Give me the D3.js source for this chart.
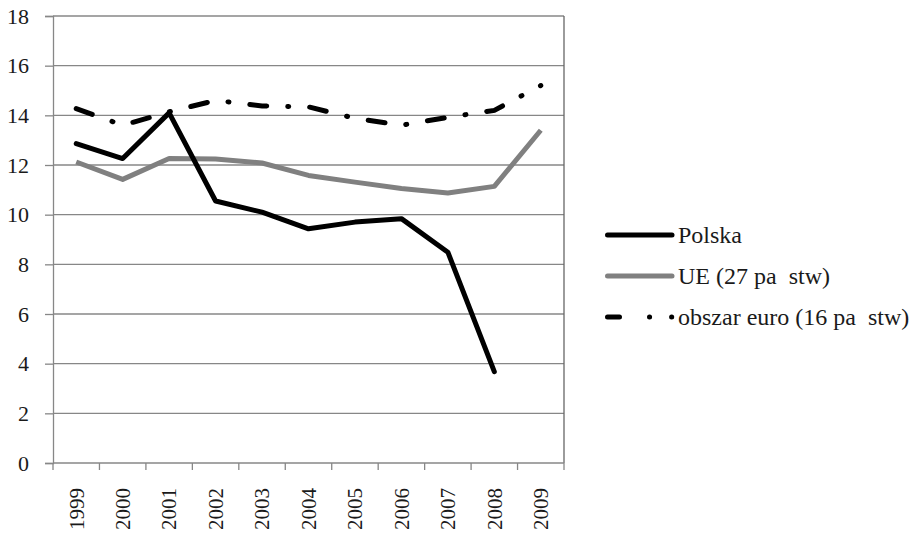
<!DOCTYPE html>
<html>
<head>
<meta charset="utf-8">
<script src="https://cdn.jsdelivr.net/npm/d3@7"></script>
</head>
<body style="margin:0;background:#fff;">
<svg width="917" height="534"></svg>
<script>
// chart values
var years = ['1999', '2000', '2001', '2002', '2003', '2004', '2005', '2006', '2007', '2008', '2009'];
var polska = [12.86, 12.26, 14.1, 10.55, 10.1, 9.43, 9.7, 9.84, 8.49, 3.68, null];
var ue27 = [12.12, 11.42, 12.26, 12.24, 12.08, 11.58, 11.31, 11.05, 10.87, 11.14, 13.4];
var euro16 = [14.27, 13.6, 14.14, 14.6, 14.38, 14.34, 13.88, 13.6, 13.92, 14.2, 15.2];
var yTicks = [0, 2, 4, 6, 8, 10, 12, 14, 16, 18];
var seriesNames = ['Polska', 'UE (27 pa\u00a0\u00a0stw)', 'obszar euro (16 pa\u00a0\u00a0stw)'];

var font = "'Liberation Serif', Tinos, 'Times New Roman', Times, serif";

var svg = d3.select('svg');
var m = {t: 16, r: 353, b: 71, l: 53};
var w = 917 - m.l - m.r;
var h = 534 - m.t - m.b;

var g = svg.append('g').attr('transform', 'translate(' + m.l + ',' + m.t + ')');

var x = d3.scaleBand().domain(years).range([0, w]);
var y = d3.scaleLinear().domain([0, 18]).range([h, 0]);

var axisColor = '#878787';

function textStyle(size) {
    return function(sel) {
        sel.attr('font-family', font)
            .attr('font-size', size)
            .attr('fill', '#1a1a1a');
    };
}

// gridlines
g.selectAll('.grid')
    .data(yTicks.filter(function(d) { return d > 0; }))
    .enter().append('line')
    .attr('x1', 0).attr('x2', w)
    .attr('y1', function(d) { return y(d); })
    .attr('y2', function(d) { return y(d); })
    .attr('stroke', axisColor)
    .attr('stroke-width', 1.3);

// right border
g.append('line')
    .attr('x1', w).attr('x2', w).attr('y1', 0).attr('y2', h)
    .attr('stroke', '#666').attr('stroke-width', 1.3);

// y axis
var yAxis = g.append('g').call(d3.axisLeft(y).tickValues(yTicks).tickSize(8).tickPadding(16));
yAxis.attr('font-family', null).attr('font-size', null);
yAxis.select('.domain').attr('stroke', axisColor).attr('stroke-width', 1.3);
yAxis.selectAll('.tick line').attr('stroke', axisColor).attr('stroke-width', 1.3);
yAxis.selectAll('text').call(textStyle(22));

// x axis: ticks on band edges
var xg = g.append('g').attr('transform', 'translate(0,' + h + ')');
xg.append('line').attr('x1', 0).attr('x2', w).attr('stroke', axisColor).attr('stroke-width', 1.3);
var edges = years.map(function(d) { return x(d); }).concat([w]);
xg.selectAll('.xt')
    .data(edges)
    .enter().append('line')
    .attr('x1', function(d) { return d; }).attr('x2', function(d) { return d; })
    .attr('y1', 0).attr('y2', 7)
    .attr('stroke', axisColor).attr('stroke-width', 1.3);
xg.selectAll('.xl')
    .data(years)
    .enter().append('text')
    .attr('transform', function(d) {
        return 'translate(' + (x(d) + x.bandwidth() / 2) + ',25) rotate(-90)';
    })
    .attr('text-anchor', 'end')
    .attr('dy', '0.35em')
    .text(function(d) { return d; })
    .call(textStyle(21));

var line = d3.line()
    .defined(function(d) { return d != null; })
    .x(function(d, i) { return x(years[i]) + x.bandwidth() / 2; })
    .y(function(d) { return y(d); });

var dashDot = '17,21,1,21';

g.append('path').datum(ue27)
    .attr('d', line).attr('fill', 'none')
    .attr('stroke', '#808080').attr('stroke-width', 5)
    .attr('stroke-linejoin', 'round');

g.append('path').datum(euro16)
    .attr('d', line).attr('fill', 'none')
    .attr('stroke', '#000').attr('stroke-width', 5)
    .attr('stroke-linecap', 'round')
    .attr('stroke-dasharray', dashDot);

g.append('path').datum(polska)
    .attr('d', line).attr('fill', 'none')
    .attr('stroke', '#000').attr('stroke-width', 5)
    .attr('stroke-linejoin', 'round').attr('stroke-linecap', 'round');

// legend
var legendStyles = [
    {color: '#000', dash: null},
    {color: '#808080', dash: null},
    {color: '#000', dash: '12,30,0.1,22,0.1,100'}
];
var legend = svg.append('g').attr('transform', 'translate(607,235)');
var items = legend.selectAll('g')
    .data(seriesNames)
    .enter().append('g')
    .attr('transform', function(d, i) { return 'translate(0,' + (i * 41) + ')'; });
items.append('line')
    .attr('x1', 0.5).attr('x2', 65).attr('y1', 0).attr('y2', 0)
    .attr('stroke', function(d, i) { return legendStyles[i].color; })
    .attr('stroke-width', 5)
    .attr('stroke-linecap', 'round')
    .attr('stroke-dasharray', function(d, i) { return legendStyles[i].dash; });
items.append('text')
    .attr('x', 71).attr('dy', '0.33em')
    .text(function(d) { return d; })
    .call(textStyle(24));
</script>
</body>
</html>
